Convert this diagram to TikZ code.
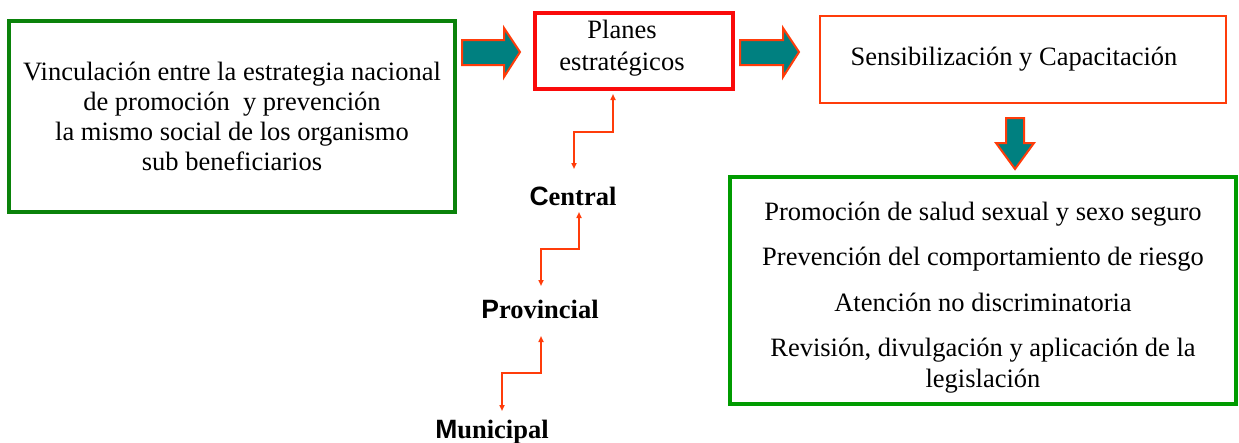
\documentclass[tikz,border=0pt]{standalone}
\usepackage{fontspec}
\setmainfont{Liberation Serif}
\setsansfont{Liberation Sans}
\usetikzlibrary{arrows.meta}
\definecolor{boxgreen}{RGB}{10,130,10}
\definecolor{lightgreen}{RGB}{0,155,0}
\definecolor{planred}{RGB}{250,10,10}
\definecolor{orred}{RGB}{255,60,10}
\definecolor{tealfill}{RGB}{0,128,128}
\begin{document}
\begin{tikzpicture}[x=1pt, y=-1pt,
    txt/.style={font=\fontsize{26.5}{30}\selectfont, align=center, inner sep=0pt},
    greenbox/.style={draw=boxgreen, line width=4pt, minimum width=446pt, minimum height=191pt, txt},
    redbox/.style={draw=planred, line width=4pt, minimum width=198pt, minimum height=76pt},
    orbox/.style={draw=orred, line width=2.5pt, minimum width=406pt, minimum height=87pt, txt},
    itembox/.style={draw=lightgreen, line width=4pt, minimum width=506pt, minimum height=227pt},
    blockarrow/.style={fill=tealfill, draw=orred, line width=2pt, line join=miter},
    stair/.style={{Triangle[length=6pt,width=5pt]}-{Triangle[length=6pt,width=5pt]}, draw=orred, line width=1.6pt},
    level/.style={font=\fontsize{26.5}{30}\selectfont\bfseries, inner sep=0pt, anchor=base}]
    \useasboundingbox (0,0) rectangle (1239,442);

    % Boxes
    \node[greenbox] (vinc) at (232,116.5) {Vinculación entre la estrategia nacional\\
        de promoción~ y prevención\\
        la mismo social de los organismo\\
        sub beneficiarios};
    \node[redbox] (planes) at (634,51) {};
    \node[txt] (planestxt) at ([xshift=-12pt, yshift=3pt]planes.center) {Planes\\[2pt]estratégicos};
    \node[orbox] (sensib) at (1023,59.5) {\hspace*{-18pt}Sensibilización y Capacitación};
    \node[itembox] (items) at (983,290.5) {};
    \node[txt, font=\fontsize{26.5}{31}\selectfont] (itemstxt) at ([yshift=-7pt]items.center)
        {Promoción de salud sexual y sexo seguro\\[14.5pt]
        Prevención del comportamiento de riesgo\\[14.5pt]
        Atención no discriminatoria\\[14.5pt]
        Revisión, divulgación y aplicación de la\\
        legislación};

    % Block arrows
    \foreach \x/\l in {462/42, 740/43} {
        \draw[blockarrow] (\x,40) -- ++(\l,0) -- ++(0,-12) -- ++(16,24) -- ++(-16,25)
            -- ++(0,-12) -- ++(-\l,0) -- cycle;
    }
    \draw[blockarrow] (1006,118) -- (1024,118) -- (1024,143) -- (1034,143)
        -- (1015,169) -- (996,143) -- (1006,143) -- cycle;

    % Levels
    \node[level] (central) at (573,205) {{\sffamily C}entral};
    \node[level] (provincial) at (540,318) {{\sffamily P}rovincial};
    \node[level] (municipal) at (492,438) {{\sffamily M}unicipal};

    % Stair connectors
    \coordinate (s1a) at (613,94);   \coordinate (s1b) at (574,169);
    \coordinate (s2a) at (579,212);  \coordinate (s2b) at (541,286);
    \coordinate (s3a) at (541,336);  \coordinate (s3b) at (502,411);
    \draw[stair] (s1a) -- ++(0,38) -| (s1b);
    \draw[stair] (s2a) -- ++(0,37) -| (s2b);
    \draw[stair] (s3a) -- ++(0,37) -| (s3b);
\end{tikzpicture}
\end{document}
